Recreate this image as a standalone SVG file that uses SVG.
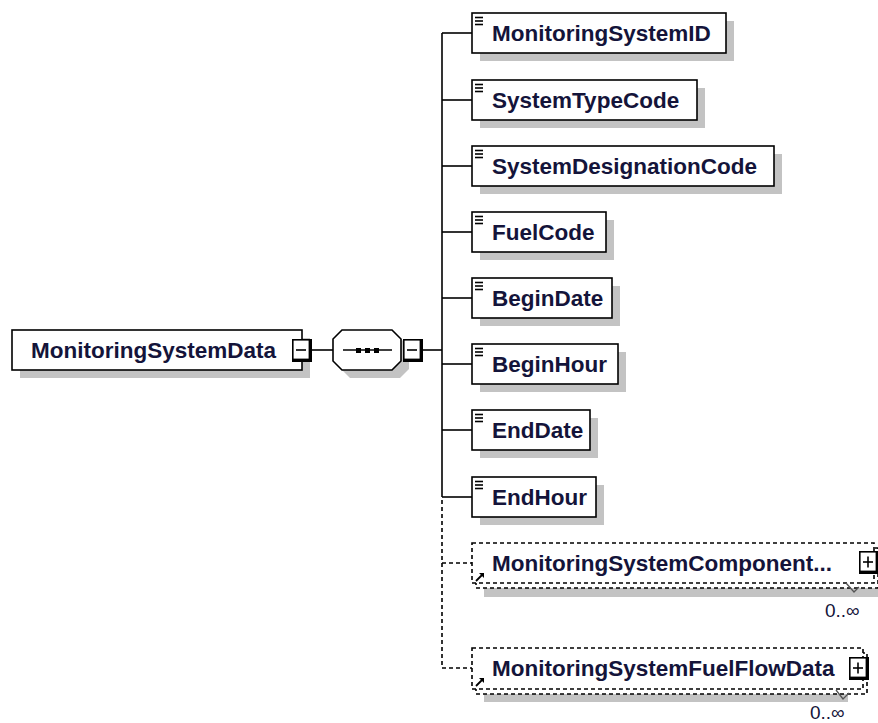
<svg xmlns="http://www.w3.org/2000/svg" xmlns:xlink="http://www.w3.org/1999/xlink" width="878" height="723" viewBox="0 0 878 723">
<style>
.bg{fill:#ffffff}
.sh{fill:#c3c3c3}
.box{fill:#ffffff;stroke:#000;stroke-width:1.6}
.dbox{fill:#ffffff;stroke:#000;stroke-width:1.6;stroke-dasharray:4 3}
.lbl{font-family:"Liberation Sans",Arial,sans-serif;font-weight:bold;font-size:22.5px;fill:#14143a}
.occ{font-family:"Liberation Sans",Arial,sans-serif;font-size:19px;fill:#14143a}
.ln{stroke:#000;stroke-width:1.6;fill:none}
.dl{stroke:#000;stroke-width:1.6;fill:none;stroke-dasharray:4 3}
.ico{stroke:#000;stroke-width:1.6}
.tick{stroke:#555;stroke-width:1.3;fill:none}
</style>
<defs>
<g id="minus"><rect x="0" y="0" width="20" height="23" fill="#000"/><rect x="1.6" y="1.6" width="15" height="18" fill="#fff"/><line x1="4" y1="11" x2="14" y2="11" stroke="#000" stroke-width="1.6"/></g>
<g id="plus"><rect x="0" y="0" width="20" height="23" fill="#000"/><rect x="1.6" y="1.6" width="15" height="18" fill="#fff"/><line x1="4" y1="11" x2="14" y2="11" stroke="#000" stroke-width="1.6"/><line x1="9" y1="5.5" x2="9" y2="16.5" stroke="#000" stroke-width="1.6"/></g>
<g id="elicon"><line class="ico" x1="3" y1="4.5" x2="11" y2="4.5"/><line class="ico" x1="3" y1="8" x2="11" y2="8"/><line class="ico" x1="3" y1="11.5" x2="11" y2="11.5"/></g>
<g id="refarrow"><line x1="0" y1="8" x2="6" y2="2" stroke="#000" stroke-width="1.8"/><polygon points="3,0 8,0 8,5" fill="#000"/></g>
</defs>
<rect class="bg" x="0" y="0" width="878" height="723"/>

<g id="connectors">
<line class="ln" x1="312" y1="350" x2="333" y2="350"/>
<line class="ln" x1="423" y1="350" x2="442" y2="350"/>
<line class="ln" x1="442" y1="33" x2="442" y2="497"/>
<line class="ln" x1="442" y1="33" x2="472" y2="33"/>
<line class="ln" x1="442" y1="100" x2="472" y2="100"/>
<line class="ln" x1="442" y1="166" x2="472" y2="166"/>
<line class="ln" x1="442" y1="232" x2="472" y2="232"/>
<line class="ln" x1="442" y1="298" x2="472" y2="298"/>
<line class="ln" x1="442" y1="364" x2="472" y2="364"/>
<line class="ln" x1="442" y1="430" x2="472" y2="430"/>
<line class="ln" x1="442" y1="497" x2="472" y2="497"/>
<path class="dl" d="M442 500 V668 H472"/>
<line class="dl" x1="442" y1="563" x2="472" y2="563"/>
</g>

<g id="MonitoringSystemData">
<rect class="sh" x="20" y="338" width="290" height="40"/>
<rect class="box" x="12" y="330" width="290" height="40"/>
<text class="lbl" x="31" y="358">MonitoringSystemData</text>
<use xlink:href="#minus" x="292" y="339"/>
</g>

<g id="sequence">
<polygon class="sh" points="350,338 400,338 409,347 409,369 400,378 350,378 341,369 341,347"/>
<polygon class="box" points="342,330 392,330 401,339 401,361 392,370 342,370 333,361 333,339"/>
<line x1="343" y1="350" x2="392" y2="350" stroke="#000" stroke-width="1.6"/>
<rect x="356" y="348" width="5" height="5" fill="#000"/>
<rect x="365" y="348" width="5" height="5" fill="#000"/>
<rect x="374" y="348" width="5" height="5" fill="#000"/>
<use xlink:href="#minus" x="403" y="339"/>
</g>

<g id="MonitoringSystemID">
<rect class="sh" x="480" y="21" width="254" height="40"/>
<rect class="box" x="472" y="13" width="254" height="40"/>
<use xlink:href="#elicon" x="472" y="13"/>
<text class="lbl" x="492" y="41">MonitoringSystemID</text>
</g>

<g id="SystemTypeCode">
<rect class="sh" x="480" y="88" width="225" height="40"/>
<rect class="box" x="472" y="80" width="225" height="40"/>
<use xlink:href="#elicon" x="472" y="80"/>
<text class="lbl" x="492" y="108">SystemTypeCode</text>
</g>

<g id="SystemDesignationCode">
<rect class="sh" x="480" y="154" width="302" height="40"/>
<rect class="box" x="472" y="146" width="302" height="40"/>
<use xlink:href="#elicon" x="472" y="146"/>
<text class="lbl" x="492" y="174">SystemDesignationCode</text>
</g>

<g id="FuelCode">
<rect class="sh" x="480" y="220" width="134" height="40"/>
<rect class="box" x="472" y="212" width="134" height="40"/>
<use xlink:href="#elicon" x="472" y="212"/>
<text class="lbl" x="492" y="240">FuelCode</text>
</g>

<g id="BeginDate">
<rect class="sh" x="480" y="286" width="140" height="40"/>
<rect class="box" x="472" y="278" width="140" height="40"/>
<use xlink:href="#elicon" x="472" y="278"/>
<text class="lbl" x="492" y="306">BeginDate</text>
</g>

<g id="BeginHour">
<rect class="sh" x="480" y="352" width="146" height="40"/>
<rect class="box" x="472" y="344" width="146" height="40"/>
<use xlink:href="#elicon" x="472" y="344"/>
<text class="lbl" x="492" y="372">BeginHour</text>
</g>

<g id="EndDate">
<rect class="sh" x="480" y="418" width="118" height="40"/>
<rect class="box" x="472" y="410" width="118" height="40"/>
<use xlink:href="#elicon" x="472" y="410"/>
<text class="lbl" x="492" y="438">EndDate</text>
</g>

<g id="EndHour">
<rect class="sh" x="480" y="485" width="124" height="40"/>
<rect class="box" x="472" y="477" width="124" height="40"/>
<use xlink:href="#elicon" x="472" y="477"/>
<text class="lbl" x="492" y="505">EndHour</text>
</g>

<g id="MonitoringSystemComponent">
<rect class="sh" x="484" y="556" width="400" height="41"/>
<rect class="dbox" x="476" y="548" width="402" height="40"/>
<rect class="dbox" x="472" y="543" width="402" height="40"/>
<text class="lbl" x="492" y="571">MonitoringSystemComponent...</text>
<use xlink:href="#refarrow" x="476" y="573"/>
<use xlink:href="#plus" x="859" y="551"/>
<polyline class="tick" points="846,583 854,592 859,587"/>
<text class="occ" x="825" y="617">0..∞</text>
</g>

<g id="MonitoringSystemFuelFlowData">
<rect class="sh" x="484" y="694" width="364" height="8"/>
<rect class="dbox" x="476" y="653" width="391" height="41"/>
<rect class="dbox" x="472" y="648" width="391" height="41"/>
<text class="lbl" x="492" y="676">MonitoringSystemFuelFlowData</text>
<use xlink:href="#refarrow" x="476" y="678"/>
<use xlink:href="#plus" x="849" y="657"/>
<polyline class="tick" points="836,690 843,699 849,693"/>
<text class="occ" x="810" y="719">0..∞</text>
</g>
</svg>
